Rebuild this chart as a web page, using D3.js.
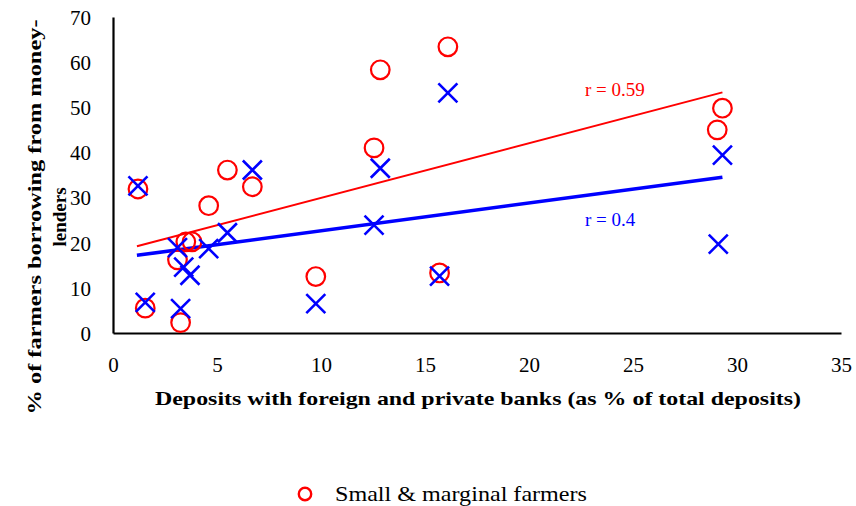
<!DOCTYPE html>
<html>
<head>
<meta charset="utf-8">
<script src="https://cdn.jsdelivr.net/npm/d3@7"></script>
<style>
  html, body { margin: 0; padding: 0; background: #fff; }
  svg { display: block; font-family: "Liberation Serif", "Times New Roman", serif; }
  svg text { font-family: "Liberation Serif", "Times New Roman", serif; }
</style>
</head>
<body>
<svg id="chart" width="856" height="506"></svg>
<script>
// ---- data ----
const smallX = [1.2, 1.55, 3.25, 3.1, 3.5, 3.8, 4.6, 5.5, 6.7, 9.75, 12.55, 12.85, 16.1, 15.7, 29.3, 29.05];
const smallY = [31.9, 5.5, 2.3, 16.2, 20.2, 20.2, 28.2, 36.1, 32.4, 12.5, 41.0, 58.3, 63.4, 13.3, 49.8, 45.0];
const allX = [1.2, 1.55, 3.25, 3.1, 3.4, 3.7, 4.6, 5.5, 6.7, 9.75, 12.55, 12.85, 16.1, 15.7, 29.3, 29.1];
const allY = [32.6, 6.8, 5.4, 18.9, 14.6, 12.8, 18.7, 22.2, 36.1, 6.5, 23.9, 36.5, 53.2, 12.6, 39.4, 19.7];
const trendSmallX = [1.15, 29.3];
const trendSmallY = [19.2, 53.3];
const trendAllX = [1.15, 29.3];
const trendAllY = [17.2, 34.5];
const xTicks = [0, 5, 10, 15, 20, 25, 30, 35];
const yTicks = [0, 10, 20, 30, 40, 50, 60, 70];
const rLabelSmall = "r = 0.59";
const rLabelAll = "r = 0.4";
const xTitle = "Deposits with foreign and private banks (as % of total deposits)";
const yTitle1 = "% of farmers borrowing from money-";
const yTitle2 = "lenders";
const legendLabel = "Small & marginal farmers";

const RED = "#ff0000", BLUE = "#0000ff";
const FONT = "Liberation Serif";
const svg = d3.select("#chart");
const x = d3.scaleLinear().domain([0, 35]).range([113, 841]);
const y = d3.scaleLinear().domain([0, 70]).range([333, 17]);

// axes (lines only, no tick marks)
const xAxis = d3.axisBottom(x).tickValues(xTicks).tickSize(0).tickPadding(0).tickFormat(d3.format("d"));
const gx = svg.append("g").attr("transform", `translate(0,${y(0)})`).call(xAxis);
gx.attr("font-family", FONT);
gx.select(".domain").attr("stroke", "#000").attr("stroke-width", 2.2);
gx.selectAll("text").attr("font-size", 21).attr("fill", "#000")
  .attr("dy", null).attr("y", 39);

const yAxis = d3.axisLeft(y).tickValues(yTicks).tickSize(0).tickPadding(0).tickFormat(d3.format("d"));
const gy = svg.append("g").attr("transform", `translate(${x(0)},0)`).call(yAxis);
gy.attr("font-family", FONT);
gy.select(".domain").attr("stroke", "#000").attr("stroke-width", 2.2);
gy.selectAll("text").attr("font-size", 21).attr("fill", "#000")
  .attr("x", -22).attr("dy", "0.35em");
gx.raise();

// trendlines
const line = d3.line().x(d => x(d[0])).y(d => y(d[1]));
svg.append("path").datum(d3.zip(trendSmallX, trendSmallY)).attr("d", line)
  .attr("fill", "none").attr("stroke", RED).attr("stroke-width", 2);
svg.append("path").datum(d3.zip(trendAllX, trendAllY)).attr("d", line)
  .attr("fill", "none").attr("stroke", BLUE).attr("stroke-width", 3.5);

// small & marginal farmers: red open circles
svg.append("g").selectAll("circle").data(d3.zip(smallX, smallY)).join("circle")
  .attr("cx", d => x(d[0])).attr("cy", d => y(d[1])).attr("r", 9.3)
  .attr("fill", "none").attr("stroke", RED).attr("stroke-width", 2.2);

// all farmers: blue crosses
const s = 9.5;
svg.append("g").selectAll("path").data(d3.zip(allX, allY)).join("path")
  .attr("d", d => {
    const cx = x(d[0]), cy = y(d[1]);
    return `M${cx - s},${cy - s}L${cx + s},${cy + s}M${cx - s},${cy + s}L${cx + s},${cy - s}`;
  })
  .attr("fill", "none").attr("stroke", BLUE).attr("stroke-width", 2.6);

// r labels
svg.append("text").attr("x", 585).attr("y", 96).attr("font-size", 19).attr("fill", RED).text(rLabelSmall);
svg.append("text").attr("x", 585).attr("y", 226).attr("font-size", 19).attr("fill", BLUE).text(rLabelAll);

// axis titles
svg.append("text").attr("x", 478).attr("y", 405).attr("text-anchor", "middle")
  .attr("font-size", 19).attr("font-weight", "bold").attr("fill", "#000")
  .attr("textLength", 646).attr("lengthAdjust", "spacingAndGlyphs").text(xTitle);

const yt = svg.append("g").attr("transform", "translate(0,217) rotate(-90)");
yt.append("text").attr("x", 0).attr("y", 41).attr("text-anchor", "middle")
  .attr("font-size", 19).attr("font-weight", "bold").attr("fill", "#000")
  .attr("textLength", 395).attr("lengthAdjust", "spacingAndGlyphs").text(yTitle1);
yt.append("text").attr("x", 0).attr("y", 66).attr("text-anchor", "middle")
  .attr("font-size", 19).attr("font-weight", "bold").attr("fill", "#000").text(yTitle2);

// legend
svg.append("circle").attr("cx", 305).attr("cy", 494).attr("r", 6.2)
  .attr("fill", "none").attr("stroke", RED).attr("stroke-width", 2.4);
svg.append("text").attr("x", 335).attr("y", 501).attr("font-size", 21).attr("fill", "#000")
  .attr("textLength", 252).attr("lengthAdjust", "spacingAndGlyphs").text(legendLabel);
</script>
</body>
</html>
